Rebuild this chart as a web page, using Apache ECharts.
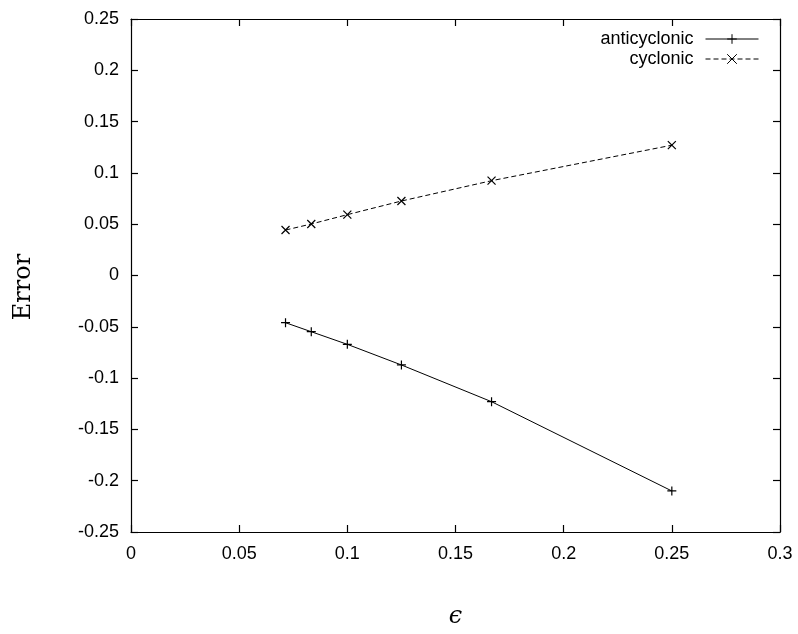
<!DOCTYPE html>
<html>
<head>
<meta charset="utf-8">
<script src="https://cdn.jsdelivr.net/npm/echarts@6/dist/echarts.min.js"></script>
<style>html,body{margin:0;padding:0;background:#fff;}#c{width:798px;height:634px;}</style>
</head>
<body>
<div id="c"></div>
<script>
const epsilon = [1/14, 1/12, 1/10, 1/8, 1/6, 1/4];
const anticyclonic = [-0.046, -0.0548, -0.0671, -0.0872, -0.123, -0.210];
const cyclonic = [0.0443, 0.0502, 0.0593, 0.0726, 0.0924, 0.127];
const seriesNames = ['anticyclonic', 'cyclonic'];
const xTitle = 'ϵ';
const yTitle = 'Error';

const chart = echarts.init(document.getElementById('c'), null, {renderer: 'canvas'});
const font = 'Liberation Sans, Arial, sans-serif';
function axisBase() {
  return {
    type: 'value',
    axisLine: {show: true, onZero: false, lineStyle: {color: '#000', width: 1.2}},
    axisTick: {show: true, inside: true, length: 7, lineStyle: {color: '#000', width: 1.2}},
    splitLine: {show: false}
  };
}
const plus = 'path://M5,0L5,10M0,5L10,5';
const cross = 'path://M0,0L10,10M0,10L10,0';
chart.setOption({
  animation: false,
  backgroundColor: '#fff',
  grid: {left: 131, right: 18, top: 19, bottom: 102, show: false},
  legend: {
    orient: 'vertical', right: 34, top: 24, align: 'right',
    itemWidth: 53, itemHeight: 12, itemGap: 0,
    lineStyle: {width: 1, color: '#000'},
    itemStyle: {borderWidth: 1, borderColor: '#000'},
    textStyle: {fontFamily: font, fontSize: 18, lineHeight: 20, color: '#000', padding: [0, 7, 0, 0]},
    data: seriesNames
  },
  xAxis: [
    Object.assign(axisBase(), {min: 0, max: 0.3, interval: 0.05, position: 'bottom',
      axisLabel: {fontFamily: font, fontSize: 18, color: '#000', margin: 13},
      name: xTitle, nameLocation: 'middle', nameGap: 73,
      nameTextStyle: {fontFamily: 'DejaVu Serif, serif', fontStyle: 'italic', fontSize: 24, color: '#000'}}),
    Object.assign(axisBase(), {min: 0, max: 0.3, interval: 0.05, position: 'top', axisLabel: {show: false}})
  ],
  yAxis: [
    Object.assign(axisBase(), {min: -0.25, max: 0.25, interval: 0.05, position: 'left',
      axisLabel: {fontFamily: font, fontSize: 18, color: '#000', margin: 12}}),
    Object.assign(axisBase(), {min: -0.25, max: 0.25, interval: 0.05, position: 'right', axisLabel: {show: false}})
  ],
  graphic: [{
    type: 'text', x: 24, y: 287, rotation: Math.PI / 2,
    style: {text: yTitle, fontFamily: 'DejaVu Serif, serif', fontSize: 24, fill: '#000', align: 'center', verticalAlign: 'middle'}
  }],
  series: [
    {
      name: seriesNames[0], type: 'line', xAxisIndex: 0, yAxisIndex: 0,
      data: epsilon.map((x, i) => [x, anticyclonic[i]]),
      symbol: plus, symbolSize: 9, showSymbol: true,
      lineStyle: {color: '#000', width: 1},
      itemStyle: {color: '#000', borderColor: '#000', borderWidth: 1.2}
    },
    {
      name: seriesNames[1], type: 'line', xAxisIndex: 0, yAxisIndex: 0,
      data: epsilon.map((x, i) => [x, cyclonic[i]]),
      symbol: cross, symbolSize: 8, showSymbol: true,
      lineStyle: {color: '#000', width: 1, type: [5, 3]},
      itemStyle: {color: '#000', borderColor: '#000', borderWidth: 1.2}
    }
  ]
});
</script>
</body>
</html>
